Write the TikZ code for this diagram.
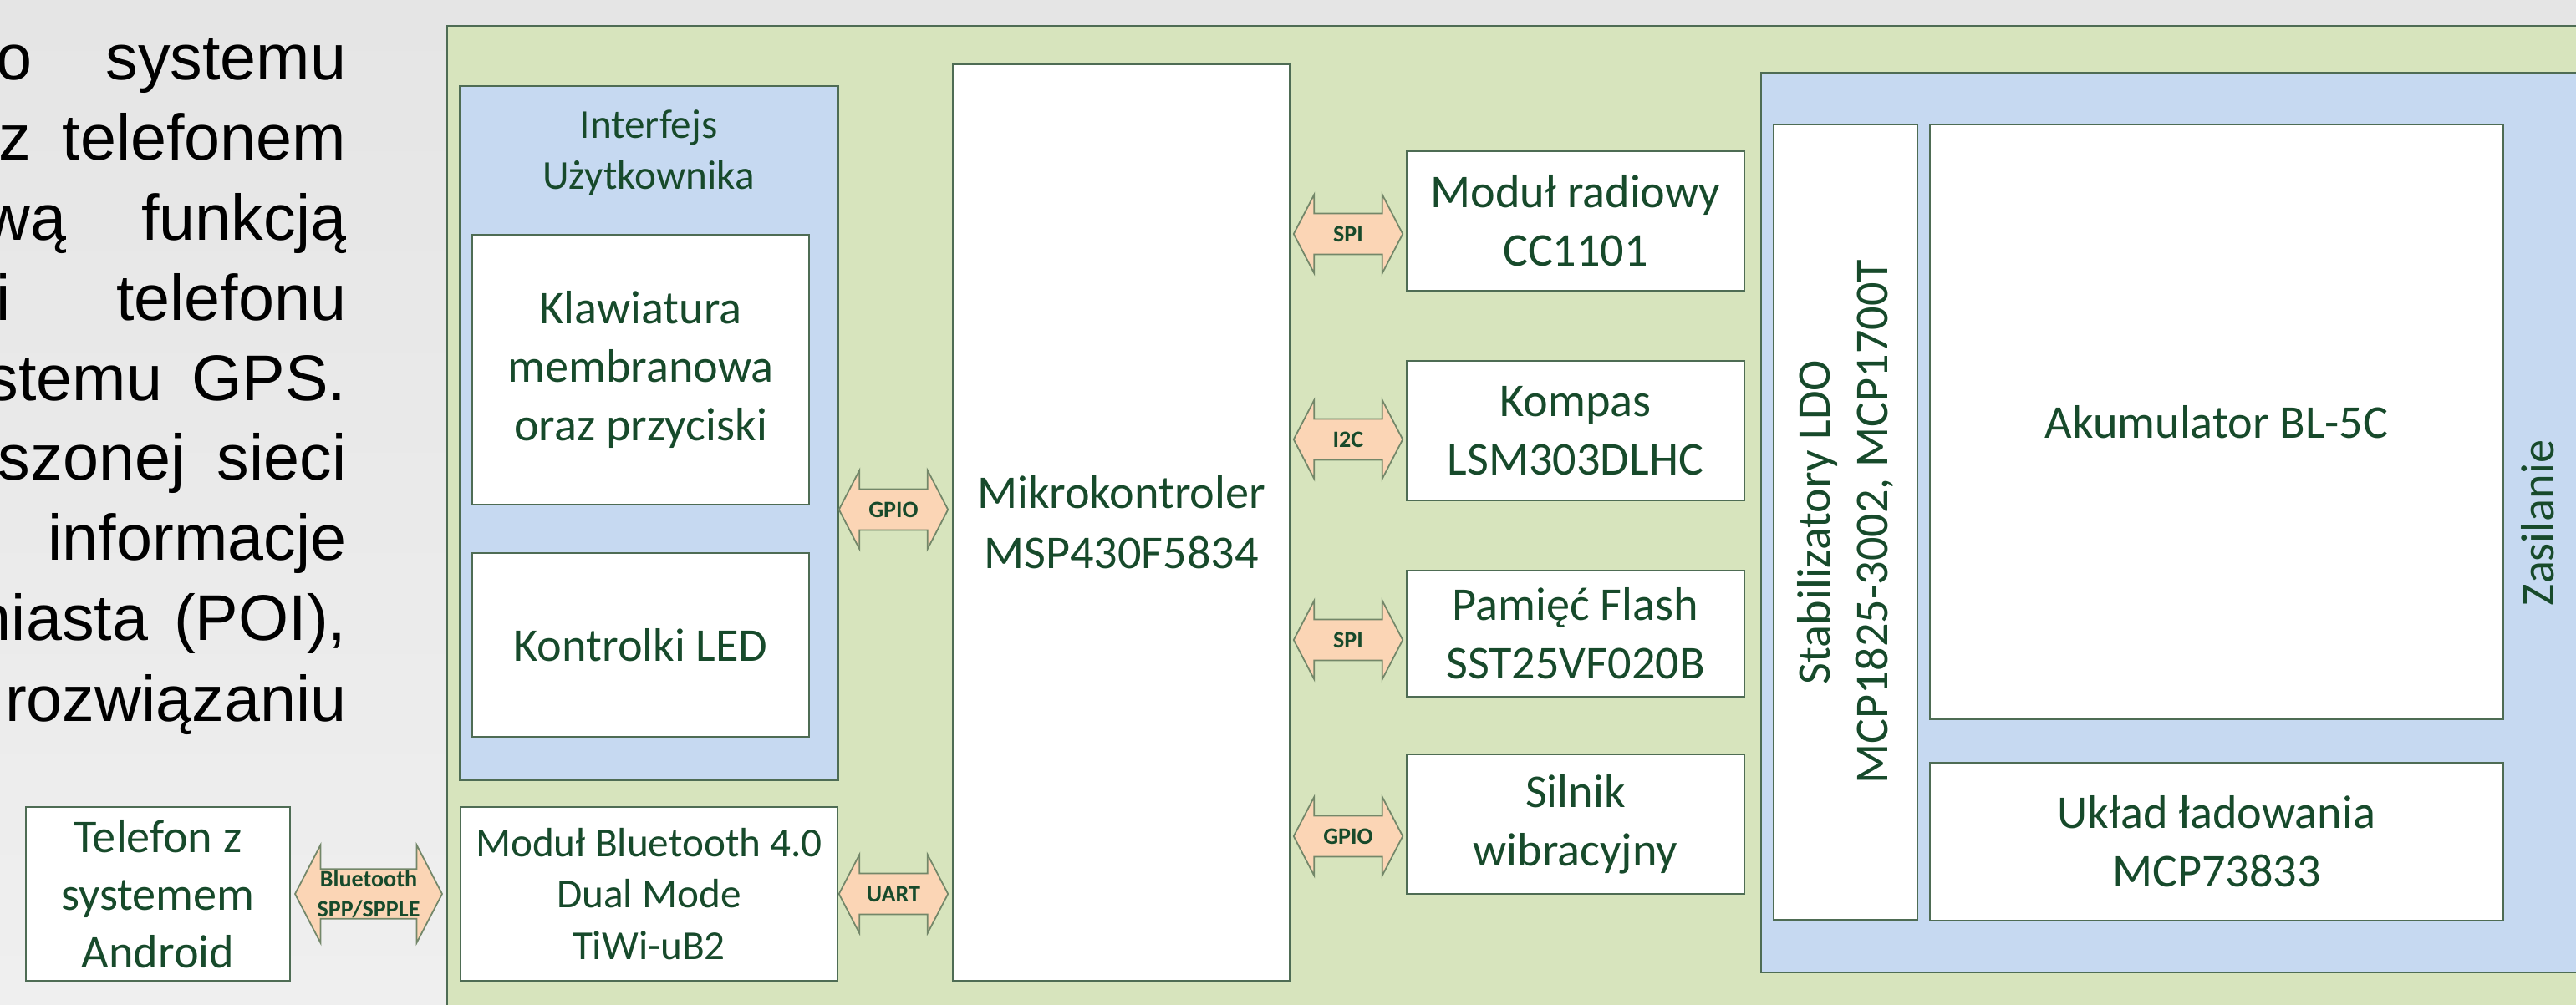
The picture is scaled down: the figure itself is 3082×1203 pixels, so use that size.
\documentclass[tikz,border=0pt]{standalone}
\usepackage{fontspec}
\newfontfamily\calibri{Carlito}
\newfontfamily\arial{Liberation Sans}
\usetikzlibrary{shapes.arrows}

\definecolor{bgtop}{RGB}{229,229,229}
\definecolor{bgbot}{RGB}{239,239,239}
\definecolor{greenbg}{RGB}{215,228,189}
\definecolor{bluebg}{RGB}{198,217,241}
\definecolor{peach}{RGB}{251,213,181}
\definecolor{txt}{RGB}{23,74,43}
\definecolor{boxline}{RGB}{78,108,84}
\definecolor{arrowline}{RGB}{115,135,105}

\begin{document}
\begin{tikzpicture}[x=0.1mm,y=-0.1mm,
  box/.style={draw=boxline,line width=0.5pt,fill=white,text=txt,align=center,inner sep=0pt,
    font=\calibri\fontsize{16}{20}\selectfont},
  group/.style={draw=boxline,line width=0.5pt},
  title/.style={text=txt,align=center,inner sep=0pt,font=\calibri\fontsize{14}{17.4}\selectfont},
  bus/.style={double arrow,draw=arrowline,line width=0.5pt,fill=peach,text=txt,
    font=\calibri\bfseries\fontsize{8}{10}\selectfont,double arrow head extend=2.25mm,
    double arrow tip angle=125,minimum height=13.05mm,inner xsep=0pt,inner ysep=4.1pt},
  slide/.style={anchor=base east,inner sep=0pt,font=\arial\fontsize{22}{27}\selectfont}]
\clip (0,0) rectangle (3082,1203);
\shade[top color=bgtop,bottom color=bgbot] (0,0) rectangle (3082,1203);

% slide text, cut at the left edge
\node[slide] (l1a) at (39,96) {o};
\node[slide] (l1b) at (415,96) {systemu};
\node[slide] (l2a) at (38,192) {z};
\node[slide] (l2b) at (415,192) {telefonem};
\node[slide] (l3a) at (80,288) {wą};
\node[slide] (l3b) at (415,288) {funkcją};
\node[slide] (l4a) at (13,384) {i};
\node[slide] (l4b) at (415,384) {telefonu};
\node[slide] (l5a) at (195,480) {stemu};
\node[slide] (l5b) at (415,480) {GPS.};
\node[slide] (l6a) at (222,575) {szonej};
\node[slide] (l6b) at (415,575) {sieci};
\node[slide] (l7) at (415,671) {informacje};
\node[slide] (l8a) at (178,767) {niasta};
\node[slide] (l8b) at (415,767) {(POI),};
\node[slide] (l9) at (415,863) {rozwiązaniu};

% device
\draw[group,fill=greenbg] (535,31) rectangle (3150,1250);
\draw[group,fill=bluebg] (550,103) rectangle (1003,934);
\node[title] (uitxt) at (776,183) {Interfejs\\Użytkownika};
\node[box,minimum width=40.3mm,minimum height=32.3mm] (keys) at (766.5,442.5) {Klawiatura\\membranowa\\oraz przyciski};
\node[box,minimum width=40.3mm,minimum height=22mm] (led) at (766.5,772) {Kontrolki LED};
\node[box,minimum width=45.1mm,minimum height=20.8mm,font=\calibri\fontsize{14}{17.5}\selectfont] (btm) at (776.5,1070) {Moduł Bluetooth 4.0\\Dual Mode\\TiWi-uB2};
\node[box,minimum width=31.6mm,minimum height=20.8mm,font=\calibri\fontsize{16}{19.6}\selectfont] (phone) at (189,1070) {Telefon z\\systemem\\Android};
\node[box,minimum width=40.3mm,minimum height=109.7mm,font=\calibri\fontsize{16}{20.5}\selectfont] (mcu) at (1341.5,625.5) {Mikrokontroler\\MSP430F5834};
\node[box,minimum width=40.4mm,minimum height=16.7mm] (radio) at (1885,264.5) {Moduł radiowy\\CC1101};
\node[box,minimum width=40.4mm,minimum height=16.7mm] (compass) at (1885,515.5) {Kompas\\LSM303DLHC};
\node[box,minimum width=40.4mm,minimum height=15.1mm] (flash) at (1885,758.5) {Pamięć Flash\\SST25VF020B};
\node[box,minimum width=40.4mm,minimum height=16.7mm] (motor) at (1885,986.5) {Silnik\\wibracyjny};

% power supply
\draw[group,fill=bluebg] (2107,87) rectangle (3150,1164);
\node[box,minimum width=17.2mm,minimum height=95.2mm] (ldobox) at (2208,625) {};
\node[title,rotate=90,font=\calibri\fontsize{16}{19.6}\selectfont] (ldo) at (ldobox.center) {Stabilizatory LDO\\MCP1825-3002, MCP1700T};
\node[box,minimum width=68.6mm,minimum height=71.2mm] (batt) at (2652,505) {Akumulator BL-5C};
\node[box,minimum width=68.6mm,minimum height=18.9mm] (charger) at (2652,1007.5) {Układ ładowania\\MCP73833};
\node[title,rotate=90,font=\calibri\fontsize{16}{20}\selectfont] (pwrtxt) at (3036,626) {Zasilanie};

% buses
\node[bus] (gpioui) at (1069,610) {GPIO};
\node[bus] (uart) at (1069,1070) {UART};
\node[bus] (spiradio) at (1613,280) {SPI};
\node[bus] (i2c) at (1613,526) {I2C};
\node[bus] (spiflash) at (1613,766) {SPI};
\node[bus] (gpiomotor) at (1613,1001) {GPIO};
\node[bus,align=center,inner ysep=0.1pt,double arrow head extend=2.9mm,minimum height=17.6mm,
  font=\calibri\bfseries\fontsize{8}{10.2}\selectfont] (bt) at (441,1070) {Bluetooth\\SPP/SPPLE};
\end{tikzpicture}
\end{document}
